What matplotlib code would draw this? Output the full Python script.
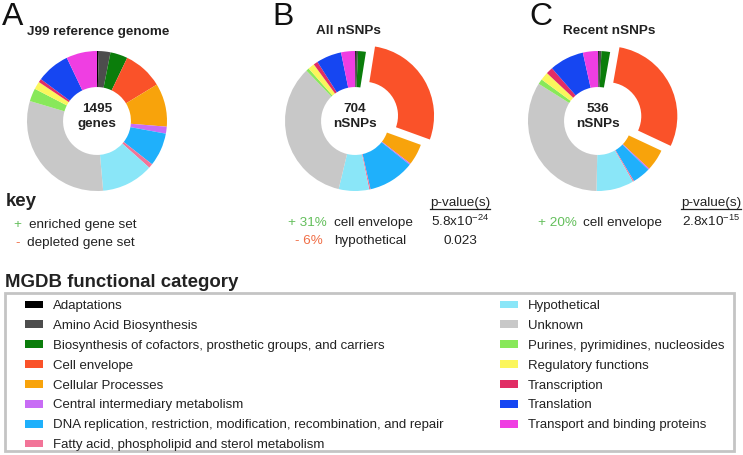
import matplotlib
matplotlib.use("Agg")
import matplotlib.pyplot as plt
from matplotlib.patches import Rectangle

plt.rcParams['font.family'] = ['Liberation Sans', 'DejaVu Sans']
plt.rcParams['mathtext.default'] = 'regular'

# MGDB functional categories and colours
categories = ['Adaptations', 'Amino Acid Biosynthesis',
              'Biosynthesis of cofactors, prosthetic groups, and carriers',
              'Cell envelope', 'Cellular Processes', 'Central intermediary metabolism',
              'DNA replication, restriction, modification, recombination, and repair',
              'Fatty acid, phospholipid and sterol metabolism',
              'Hypothetical', 'Unknown', 'Purines, pyrimidines, nucleosides',
              'Regulatory functions', 'Transcription', 'Translation',
              'Transport and binding proteins']
colors = ['#000000', '#4d4d4d', '#0b7d0b', '#fa5229', '#f8a30b', '#c86cf5',
          '#1fb0fb', '#f27498', '#8ae6f8', '#c8c8c8', '#88e85a', '#fbf65c',
          '#e12d65', '#1646f2', '#ef3ee2']

# percentage of each category (read from the donuts)
genome_pct = [0.4, 2.7, 4.0, 9.2, 10.0, 1.6, 7.7, 1.0, 12.0, 31.0, 3.0, 1.8, 0.8, 7.7, 7.1]
all_pct = [0.2, 0.5, 1.8, 28.0, 4.9, 0.3, 10.7, 0.3, 7.0, 34.0, 0.7, 1.5, 1.0, 5.8, 3.2]
recent_pct = [0.2, 0.6, 2.0, 29.4, 5.0, 0.3, 4.2, 0.3, 8.7, 33.8, 1.2, 1.9, 1.6, 8.0, 3.5]

panels = ['A', 'B', 'C']
titles = ['J99 reference genome', 'All nSNPs', 'Recent nSNPs']
totals = ['1495', '704', '536']
units = ['genes', 'nSNPs', 'nSNPs']
exploded = [None, 'Cell envelope', 'Cell envelope']

# enrichment tables
enrich_b = [('+ 31%', 'cell envelope', '5.8x10$^{-24}$'), ('- 6%', 'hypothetical', '0.023')]
enrich_c = [('+ 20%', 'cell envelope', '2.8x10$^{-15}$')]

W, H = 743, 456
fig = plt.figure(figsize=(W / 100, H / 100), dpi=100)

txt = '#222222'
green_txt = '#63bf5b'
red_txt = '#f06e46'
fs = 9.7

# donuts
centers = [(97, 122), (355, 122), (598, 122)]
R = 70
S = 190
for (cx, cy), vals, exp in zip(centers, [genome_pct, all_pct, recent_pct], exploded):
    a = fig.add_axes([(cx - S / 2) / W, (H - cy - S / 2) / H, S / W, S / H])
    ex = [0.15 if c == exp else 0 for c in categories]
    a.pie(vals, colors=colors, explode=ex, startangle=90, counterclock=False,
          radius=1, wedgeprops=dict(width=0.515, linewidth=0))
    lim = S / 2 / R
    a.set_xlim(-lim, lim)
    a.set_ylim(-lim, lim)
    a.set_aspect('equal')
    a.axis('off')

ax = fig.add_axes([0, 0, 1, 1])
ax.set_xlim(0, W)
ax.set_ylim(H, 0)
ax.axis('off')

# panel letters and titles
for lx, p in zip([2, 272, 529], panels):
    ax.text(lx, 25, p, fontsize=23, color='#111111', va='baseline', ha='left')
for tx, ty, t in zip([98.5, 348, 609], [35, 34, 34], titles):
    ax.text(tx, ty, t, fontsize=fs, fontweight='bold', color=txt, ha='center', va='baseline')
for (cx, cy), n, u in zip(centers, totals, units):
    ax.text(cx, 112.5, n, fontsize=fs, fontweight='bold', color=txt, ha='center', va='baseline')
    ax.text(cx, 127, u, fontsize=fs, fontweight='bold', color=txt, ha='center', va='baseline')

# key
ax.text(6, 206.5, 'key', fontsize=13.4, fontweight='bold', color=txt, va='baseline')
ax.text(13, 228, '+', fontsize=fs, color=green_txt, va='baseline')
ax.text(29, 228, 'enriched gene set', fontsize=fs, color=txt, va='baseline')
ax.text(15, 246, '-', fontsize=fs, color=red_txt, va='baseline')
ax.text(27, 246, 'depleted gene set', fontsize=fs, color=txt, va='baseline')

# enrichment tables
underlines = []
def table(rows, pct_right, label_left, pcol):
    h = ax.text(pcol, 206.5, 'p-value(s)', fontsize=fs, color=txt, ha='center', va='baseline')
    underlines.append(h)
    for i, (pct, lab, pv) in enumerate(rows):
        y = 226 + 18 * i
        col = green_txt if pct.startswith('+') else red_txt
        ax.text(pct_right[i], y, pct, fontsize=fs, color=col, ha='right', va='baseline')
        ax.text(label_left, y, lab, fontsize=fs, color=txt, ha='left', va='baseline')
        ax.text(pcol, y, pv, fontsize=fs, color=txt, ha='center', va='baseline')

table(enrich_b, [327, 323], 334, 460)
table(enrich_c, [577], 583, 711)

fig.canvas.draw()
inv = ax.transData.inverted()
for h in underlines:
    bb = h.get_window_extent()
    (x0, _), (x1, _) = inv.transform([[bb.x0, bb.y0], [bb.x1, bb.y0]])
    ax.plot([x0, x1], [210, 210], color=txt, lw=0.9)

# legend
ax.text(5, 287, 'MGDB functional category', fontsize=13.4, fontweight='bold', color=txt, va='baseline')
ax.add_patch(Rectangle((5, 294), 729, 158, fill=False, edgecolor='#c4c4c4', lw=2))
for i, (c, col) in enumerate(zip(categories, colors)):
    if i < 8:
        px, row = 25, i
    else:
        px, row = 500, i - 8
    yb = 309 + 19.9 * row
    ax.add_patch(Rectangle((px, yb - 7.5), 17.7, 7.7, facecolor=col, edgecolor='none'))
    ax.text(px + 28, yb, c, fontsize=9.5, color=txt, va='baseline')

fig.savefig('out.png', dpi=100)
